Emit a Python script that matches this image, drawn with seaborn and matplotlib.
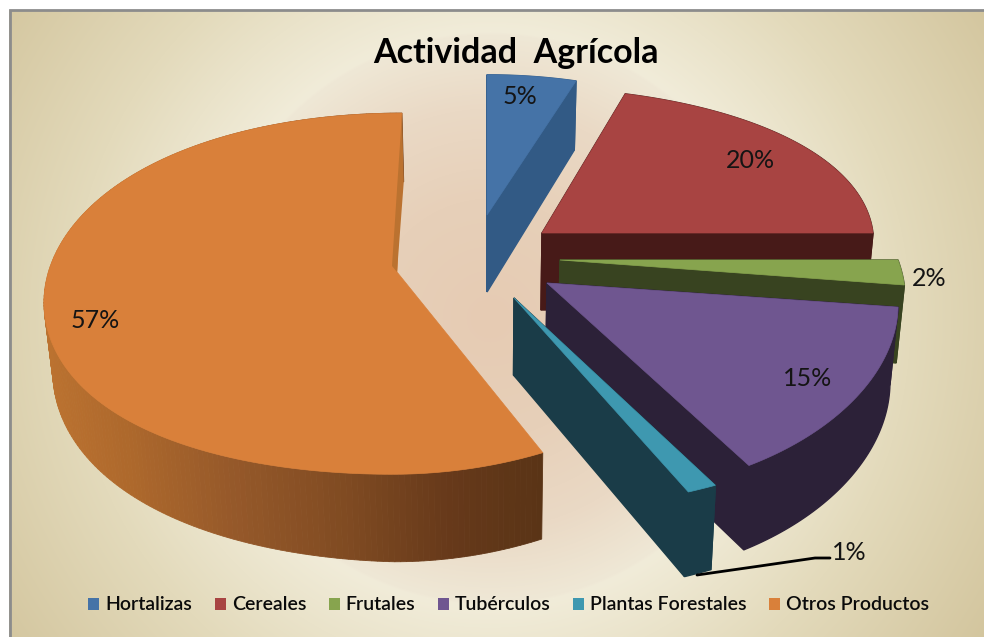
import numpy as np
import matplotlib
matplotlib.use("Agg")
import matplotlib.pyplot as plt
from matplotlib.colors import to_rgb, LinearSegmentedColormap
from matplotlib.patches import Patch
import seaborn as sns

# ---- data ----
categories = ["Hortalizas", "Cereales", "Frutales", "Tubérculos", "Plantas Forestales", "Otros Productos"]
shares = [5, 20, 2, 15, 1, 57]
title_text = "Actividad  Agrícola"

# ---- style ----
top_hex = ["#4573a7", "#a84442", "#87a44e", "#6f5690", "#3e98b0", "#d9803a"]
side_hex = ["#325a85", "#471a18", "#384320", "#2c2138", "#1a3c48", "#8a5025"]
# per-slice projection: cx, cy, a, b, persp k, shear, left-side sag
geometry = [
    (487, 215, 288, 157, 0.12, 0, 0),
    (542, 233, 331, 163, 0.12, -20, 0),
    (560, 260, 338, 197, 0.10, -72, 0),
    (547, 283, 349, 190, 0.10, -38.6, 0),
    (514, 298, 468, 195, 0.10, 27.5, 0),
    (397, 272, 353, 178, 0.12, 5, 1),
]
draw_order = [0, 1, 2, 5, 3, 4]
wall_depth = 77
label_xy = [(520, 97), (750, 161), (929, 278), (808, 378), (849, 553), (95, 320)]
orange_wall_stops = [(0.0, "#bb7230"), (0.17, "#ad682c"), (0.37, "#96592a"), (0.6, "#804b22"), (0.82, "#66391a"), (1.0, "#5a3416")]

sns.set_theme(style="white")
plt.rcParams["font.family"] = ["Lato", "DejaVu Sans"]
palette_top = sns.color_palette(top_hex)
palette_side = sns.color_palette(side_hex)

fig = plt.figure(figsize=(9.84, 6.37), dpi=100, facecolor="white")
ax = fig.add_axes([0, 0, 1, 1])

# background
yy, xx = np.mgrid[10:637, 9:984]
r = np.hypot(xx - 490, yy - 318)
stops_r = [0, 120, 210, 284, 287, 420, 600]
stops_c = [to_rgb(c) for c in ["#e6cbb3", "#e7d0b9", "#ead9c5", "#efe8d6", "#f1ecd9", "#e3dabb", "#d2c49c"]]
bg = np.dstack([np.interp(r, stops_r, [c[i] for c in stops_c]) for i in range(3)])
ax.imshow(bg, extent=(9, 984, 637, 10), aspect="auto", zorder=0, interpolation="bilinear")
ax.plot([9.5, 9.5, 984], [637, 10, 10], color="#8c8c8c", lw=2, zorder=1, solid_joinstyle="miter")
ax.set_xlim(0, 984)
ax.set_ylim(637, 0)
ax.axis("off")


def project(theta, g):
    cx, cy, a, b, k, sh, sag = g
    X, Y = np.cos(theta), np.sin(theta)
    s = 1 / (1 + k * Y)
    left = np.minimum(X, 0)
    return cx + a * X + sh * Y, cy - b * Y * s + sag * (28 - 14 * Y) * left ** 2, s * (1 + 0.1 * sag * left)


def drop(x, y, s):
    return x - 0.02 * (x - 490), y + wall_depth * s


fractions = np.array(shares) / np.sum(shares)
ends = np.pi / 2 - 2 * np.pi * np.cumsum(fractions)
starts = ends + 2 * np.pi * fractions
wall_cmap = LinearSegmentedColormap.from_list("wall", orange_wall_stops)

for z, idx in enumerate(draw_order):
    g = geometry[idx]
    cx, cy = g[0], g[1]
    th = np.linspace(starts[idx], ends[idx], max(int(abs(starts[idx] - ends[idx]) * 60), 8))
    xs, ys, ss = project(th, g)
    bx, by = drop(xs, ys, ss)
    tipx, tipy = drop(cx, cy, 1.0)
    base = 10 + z * 3
    if idx == 5:
        for i in range(len(th) - 1):
            col = wall_cmap(np.clip((0.5 * (xs[i] + xs[i + 1]) - 44) / 497, 0, 1))
            ax.fill([xs[i], xs[i + 1], bx[i + 1], bx[i]], [ys[i], ys[i + 1], by[i + 1], by[i]],
                    color=col, lw=0.6, zorder=base)
        ax.fill(np.r_[cx, xs], np.r_[cy, ys], color=palette_top[idx], lw=0.5, zorder=base + 1)
        # narrow visible cut by the centre
        ax.fill([xs[-1], bx[-1], cx, cx - 5], [ys[-1], by[-1], cy, cy - 6], color="#bb7230", lw=0, zorder=base + 2)
    else:
        ax.fill(np.r_[xs, bx[::-1]], np.r_[ys, by[::-1]], color=palette_side[idx], ec=palette_side[idx], lw=1, zorder=base)
        ax.fill([cx, xs[0], bx[0], tipx], [cy, ys[0], by[0], tipy], color=palette_side[idx], ec=palette_side[idx], lw=1, zorder=base)
        ax.fill([cx, xs[-1], bx[-1], tipx], [cy, ys[-1], by[-1], tipy], color=palette_side[idx], ec=palette_side[idx], lw=1, zorder=base)
        ax.fill(np.r_[cx, xs], np.r_[cy, ys], color=palette_top[idx], lw=0.5, zorder=base + 1)

# data labels
for share, (lx, ly) in zip(shares, label_xy):
    ax.text(lx, ly, f"{share}%", ha="center", va="center", fontsize=18, color="#141414", zorder=40)
ax.plot([697, 760, 815, 830], [575, 566, 558, 558], color="black", lw=2, zorder=39)

# title
ax.text(516, 53, title_text, ha="center", va="center", fontsize=24.5, fontweight="bold", color="black", zorder=40)

# legend
handles = [Patch(facecolor=c, edgecolor="none", label=n) for c, n in zip(palette_top, categories)]
leg = ax.legend(handles=handles, ncol=6, loc="center", bbox_to_anchor=(509 / 984, 1 - 605 / 637),
                bbox_transform=fig.transFigure, frameon=False, fontsize=14, handlelength=0.57, handleheight=0.57,
                handletextpad=0.31, columnspacing=1.15, borderpad=0, labelspacing=0)
leg.set_zorder(40)
for t in leg.get_texts():
    t.set_fontweight("semibold")
    t.set_color("#0a0a0a")

fig.savefig("out.png", dpi=100)
